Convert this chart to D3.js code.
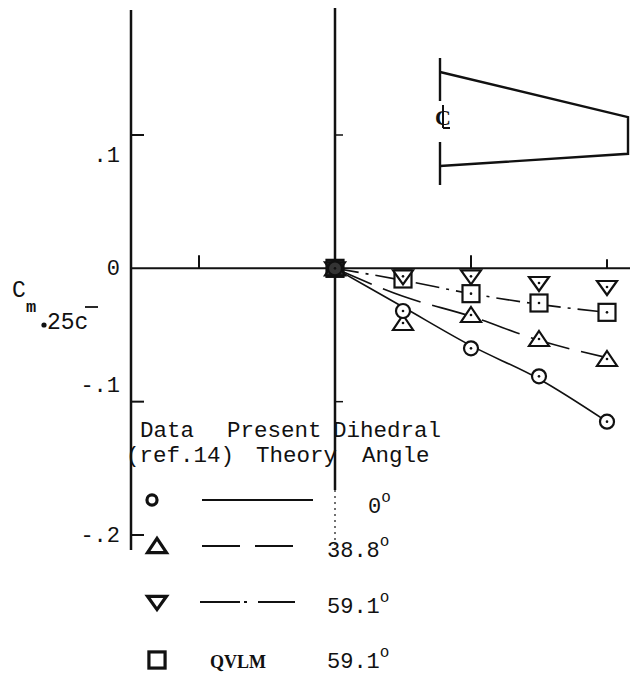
<!DOCTYPE html>
<html>
<head>
<meta charset="utf-8">
<script src="https://cdn.jsdelivr.net/npm/d3@7"></script>
<style>
  html, body { margin: 0; padding: 0; background: #fff; }
  svg { display: block; }
  text { font-family: "Liberation Mono", "DejaVu Sans Mono", monospace; fill: #111; }
</style>
</head>
<body>
<svg id="chart" width="630" height="677"></svg>
<script>
// x positions of the measured stations
const xValues = [0, 1, 2, 3, 4];

// Test data (ref. 14), Cm about the quarter chord
const dataCircle      = [0, -0.032, -0.060, -0.081, -0.115]; // dihedral 0 deg
const dataTriangle    = [0, -0.041, -0.035, -0.053, -0.068]; // dihedral 38.8 deg
const dataInvTriangle = [0, -0.006, -0.006, -0.011, -0.014]; // dihedral 59.1 deg
const dataSquare      = [0, -0.008, -0.019, -0.026, -0.033]; // QVLM, 59.1 deg

// Present theory curves
const theorySolid   = [0, -0.029, -0.058, -0.083, -0.115];
const theoryDashed  = [0, -0.021, -0.036, -0.054, -0.067];
const theoryDashDot = [0, -0.009, -0.019, -0.027, -0.033];

// Axis ticks
const yTickValues = [0.1, 0, -0.1, -0.2];
const yTickLabels = [".1", "0", "-.1", "-.2"];
const xTickValues = [-2, 2, 4];

// Legend entries
const legendAngles = ["0", "38.8", "59.1", "59.1"];

// Wing planform sketch (root chord 1, span 1)
const planform = [[0, 0], [1, 0.48], [1, 0.87], [0, 1]];

const svg = d3.select("#chart");
const ink = "#111";

const x = d3.scaleLinear().domain([0, 4]).range([335, 607]);
const y = d3.scaleLinear().domain([-0.2, 0.1]).range([535, 135]);

const xLeft = x(-3);
const g = svg.append("g");

// ---- axes ----
// left ordinate
g.append("line").attr("x1", xLeft).attr("x2", xLeft)
  .attr("y1", 10).attr("y2", 550)
  .attr("stroke", ink).attr("stroke-width", 2.5);
// zero-x vertical line
g.append("line").attr("x1", x(0)).attr("x2", x(0))
  .attr("y1", 8).attr("y2", 490)
  .attr("stroke", ink).attr("stroke-width", 2.5);
g.append("line").attr("x1", x(0)).attr("x2", x(0))
  .attr("y1", 490).attr("y2", 545)
  .attr("stroke", ink).attr("stroke-width", 1.2)
  .attr("stroke-dasharray", "2,4");
// abscissa
g.append("line").attr("x1", xLeft).attr("x2", 630)
  .attr("y1", y(0)).attr("y2", y(0))
  .attr("stroke", ink).attr("stroke-width", 2);

// y ticks on left axis and on centre line
yTickValues.forEach(v => {
  if (v === 0) return;
  g.append("line").attr("x1", xLeft).attr("x2", xLeft + 13)
    .attr("y1", y(v)).attr("y2", y(v))
    .attr("stroke", ink).attr("stroke-width", 2);
  if (v !== -0.2) {
    g.append("line").attr("x1", x(0)).attr("x2", x(0) + 8)
      .attr("y1", y(v)).attr("y2", y(v))
      .attr("stroke", ink).attr("stroke-width", 1.5);
  }
});

// tick labels (hand lettered, slightly displaced from their ticks)
const labelShift = [27, 7, -10, 7];
yTickValues.forEach((v, i) => {
  g.append("text")
    .attr("x", xLeft - 11)
    .attr("y", y(v) + labelShift[i])
    .attr("text-anchor", "end")
    .attr("font-size", 22)
    .text(yTickLabels[i]);
});

// x ticks (upward)
xTickValues.forEach(v => {
  g.append("line").attr("x1", x(v)).attr("x2", x(v))
    .attr("y1", y(0)).attr("y2", y(0) - (v === 4 ? 9 : 13))
    .attr("stroke", ink).attr("stroke-width", 2);
});

// ordinate title  C_m .25c-bar
const title = g.append("g");
title.append("text").attr("x", 12).attr("y", 297).attr("font-size", 23).text("C");
title.append("text").attr("x", 26).attr("y", 312).attr("font-size", 17)
  .attr("font-weight", "bold").text("m");
title.append("circle").attr("cx", 44).attr("cy", 325).attr("r", 2.6).attr("fill", ink);
title.append("text").attr("x", 47).attr("y", 329).attr("font-size", 23).text("25c");
title.append("line").attr("x1", 85).attr("x2", 98).attr("y1", 307).attr("y2", 307)
  .attr("stroke", ink).attr("stroke-width", 1.8);

// ---- theory curves ----
const line = d3.line().x((d, i) => x(xValues[i])).y(d => y(d)).curve(d3.curveMonotoneX);
const curves = [
  { v: theorySolid, dash: null },
  { v: theoryDashed, dash: "40,12" },
  { v: theoryDashDot, dash: "24,7,3,7" }
];
curves.forEach(c => {
  g.append("path").attr("d", line(c.v))
    .attr("fill", "none").attr("stroke", ink).attr("stroke-width", 1.6)
    .attr("stroke-dasharray", c.dash);
});

// ---- markers ----
function marker(sel, kind, s, sw) {
  const m = sel.append("g");
  if (kind === "circle") {
    m.append("circle").attr("r", 7 * s).attr("fill", "#fff").attr("stroke", ink).attr("stroke-width", sw);
  } else if (kind === "tri") {
    m.append("path").attr("d", `M0,${-8 * s}L${10 * s},${7 * s}L${-10 * s},${7 * s}Z`)
      .attr("fill", "#fff").attr("stroke", ink).attr("stroke-width", sw).attr("stroke-linejoin", "miter");
  } else if (kind === "itri") {
    m.append("path").attr("d", `M${-10 * s},${-6 * s}L${10 * s},${-6 * s}L0,${8 * s}Z`)
      .attr("fill", "#fff").attr("stroke", ink).attr("stroke-width", sw).attr("stroke-linejoin", "miter");
  } else {
    m.append("rect").attr("x", -8.5 * s).attr("y", -8.5 * s).attr("width", 17 * s).attr("height", 17 * s)
      .attr("fill", "#fff").attr("stroke", ink).attr("stroke-width", sw);
  }
  return m;
}

const series = [
  { v: dataSquare, kind: "square" },
  { v: dataInvTriangle, kind: "itri" },
  { v: dataTriangle, kind: "tri" },
  { v: dataCircle, kind: "circle" }
];
series.forEach(sr => {
  sr.v.forEach((val, i) => {
    const m = marker(g, sr.kind, 1, 2.2)
      .attr("transform", `translate(${x(xValues[i])},${y(val)})`);
    m.append("circle").attr("r", 1.3).attr("fill", ink);
  });
});
// the coincident points at the origin print as a dark blot
g.append("rect").attr("x", x(0) - 9).attr("y", y(0) - 9).attr("width", 18).attr("height", 18)
  .attr("fill", ink).attr("opacity", 0.85);

// ---- legend ----
const lg = g.append("g");
const hdr = [
  ["Data", 140, 437], ["Present", 227, 437], ["Dihedral", 333, 437],
  ["(ref.14)", 126, 462], ["Theory", 256, 462], ["Angle", 362, 462]
];
hdr.forEach(h => lg.append("text").attr("x", h[1]).attr("y", h[2]).attr("font-size", 22.5).text(h[0]));

const rowY = [500, 546, 602, 660];
const rowBase = [513, 557, 613, 668];
const kinds = ["circle", "tri", "itri", "square"];
const legendScale = [0.72, 0.95, 0.95, 0.95];
kinds.forEach((k, i) => {
  marker(lg, k, legendScale[i], 3.2).attr("transform", `translate(${k === "circle" ? 152 : 157},${rowY[i]})`);
});
const samples = [
  { x1: 202, x2: 313, dash: null },
  { x1: 202, x2: 300, dash: "38,15" },
  { x1: 200, x2: 295, dash: "40,4,3,11" }
];
samples.forEach((s, i) => {
  lg.append("line").attr("x1", s.x1).attr("x2", s.x2).attr("y1", rowY[i]).attr("y2", rowY[i])
    .attr("stroke", ink).attr("stroke-width", 1.8).attr("stroke-dasharray", s.dash);
});
lg.append("text").attr("x", 210).attr("y", rowBase[3])
  .attr("font-weight", "bold").attr("font-size", 18)
  .style("font-family", "Liberation Serif, serif").text("QVLM");

const angleX = [368, 327, 327, 327];
legendAngles.forEach((a, i) => {
  const t = lg.append("text").attr("x", angleX[i]).attr("y", rowBase[i]).attr("font-size", 22);
  t.append("tspan").text(a);
  t.append("tspan").attr("dy", -11).attr("font-size", 16).text("o");
});

// ---- wing planform sketch ----
const px = d3.scaleLinear().domain([0, 1]).range([440, 628]);
const py = d3.scaleLinear().domain([0, 1]).range([72, 166]);
g.append("path")
  .attr("d", d3.line().x(d => px(d[0])).y(d => py(d[1]))(planform))
  .attr("fill", "none").attr("stroke", ink).attr("stroke-width", 2.4);
g.append("line").attr("x1", px(0)).attr("x2", px(0)).attr("y1", 58).attr("y2", 101)
  .attr("stroke", ink).attr("stroke-width", 2.4);
g.append("line").attr("x1", px(0)).attr("x2", px(0)).attr("y1", 142).attr("y2", 185)
  .attr("stroke", ink).attr("stroke-width", 2.4);
// centre-line symbol: C crossed by a stem ending in an L foot
const cl = g.append("g").attr("transform", `translate(${px(0) + 3},117)`);
cl.append("text").attr("x", 0).attr("y", 8).attr("text-anchor", "middle")
  .attr("font-size", 22).attr("font-weight", "bold")
  .style("font-family", "Liberation Serif, serif").text("C");
cl.append("line").attr("x1", 0).attr("x2", 0).attr("y1", -12).attr("y2", 11)
  .attr("stroke", ink).attr("stroke-width", 2);
cl.append("line").attr("x1", 0).attr("x2", 7).attr("y1", 11).attr("y2", 11)
  .attr("stroke", ink).attr("stroke-width", 2);
</script>
</body>
</html>
